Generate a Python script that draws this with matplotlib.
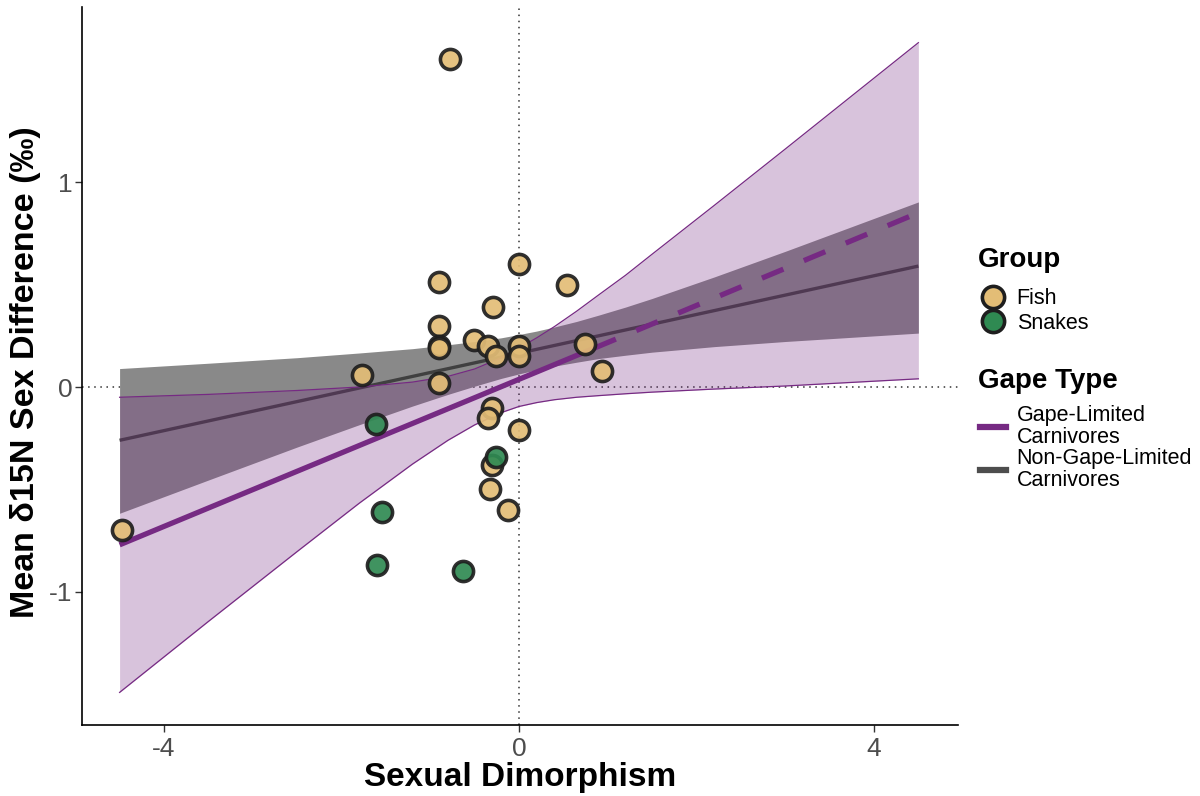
import matplotlib
matplotlib.use("Agg")
import matplotlib.pyplot as plt
from matplotlib.lines import Line2D

plt.rcParams['font.family'] = ['Liberation Sans', 'DejaVu Sans']

# points
fish_x = [-0.78, -0.90, -0.90, -0.90, -0.90, -0.90, -1.77, -0.51, -0.35, -0.29, -0.26,
          0.00, 0.00, 0.00, 0.54, 0.74, 0.94, -0.30, -0.35, 0.00, -0.30, -0.33, -0.12, -4.47]
fish_y = [1.60, 0.51, 0.30, 0.20, 0.19, 0.02, 0.06, 0.23, 0.20, 0.39, 0.15,
          0.60, 0.20, 0.15, 0.50, 0.21, 0.08, -0.10, -0.15, -0.21, -0.38, -0.50, -0.60, -0.70]
snake_x = [-1.61, -1.54, -1.60, -0.63, -0.26]
snake_y = [-0.18, -0.61, -0.87, -0.90, -0.34]

# fitted lines (end points)
gape_x_solid = [-4.5, 0.85]
gape_y_solid = [-0.77, 0.19]
gape_x_dash = [0.85, 4.5]
gape_y_dash = [0.19, 0.85]
non_x = [-4.5, 4.5]
non_y = [-0.26, 0.59]

# confidence bands, read at these x positions
band_x = [-4.5, -3.5, -2.5, -1.8, -1.2, -0.8, -0.5, -0.2, 0.0, 0.2, 0.4, 0.65, 0.9, 1.2, 1.5, 2.2, 3.0, 4.5]
gape_hi = [-0.05, -0.036, -0.017, 0.0, 0.024, 0.052, 0.088, 0.143, 0.19, 0.24, 0.295, 0.37, 0.45, 0.545, 0.648, 0.886, 1.161, 1.68]
gape_lo = [-1.49, -1.144, -0.803, -0.567, -0.376, -0.26, -0.185, -0.125, -0.095, -0.076, -0.062, -0.05, -0.042, -0.033, -0.025, -0.01, 0.005, 0.04]
non_hi = [0.09, 0.116, 0.143, 0.166, 0.187, 0.206, 0.222, 0.240, 0.256, 0.273, 0.293, 0.32, 0.351, 0.39, 0.432, 0.537, 0.662, 0.903]
non_lo = [-0.616, -0.454, -0.293, -0.184, -0.093, -0.036, 0.004, 0.042, 0.064, 0.084, 0.102, 0.121, 0.139, 0.155, 0.170, 0.197, 0.222, 0.263]

purple = '#762a83'
fish_col = '#e3bd76'
snake_col = '#2f8a52'

fig = plt.figure(figsize=(12, 7.96), dpi=100)
ax = fig.add_axes([0.0683, 0.0892, 0.7300, 0.9020])

ax.axvline(0, color='#333333', lw=1.1, ls=(0, (1, 3)), zorder=1)
ax.axhline(0, color='#333333', lw=1.1, ls=(0, (1, 3)), zorder=1)

ax.fill_between(band_x, non_lo, non_hi, color='#898989', lw=0, zorder=2)
ax.plot(non_x, non_y, color='#404040', lw=2.4, solid_capstyle='butt', zorder=3)
ax.fill_between(band_x, gape_lo, gape_hi, color=purple, alpha=0.28, lw=0, zorder=4)
ax.plot(band_x, gape_hi, color=purple, lw=0.9, zorder=4)
ax.plot(band_x, gape_lo, color=purple, lw=0.9, zorder=4)
ax.plot(gape_x_solid, gape_y_solid, color=purple, lw=3.8, solid_capstyle='butt', zorder=5)
ax.plot(gape_x_dash, gape_y_dash, color=purple, lw=3.8, dashes=(4.4, 4.2), zorder=5)

ax.scatter(fish_x, fish_y, s=210, c=fish_col, edgecolors='#1e1e1e', linewidths=2.6, alpha=0.92, zorder=6)
ax.scatter(snake_x, snake_y, s=210, c=snake_col, edgecolors='#1e1e1e', linewidths=2.6, alpha=0.92, zorder=6)

ax.set_xlim(-4.924, 4.946)
ax.set_ylim(-1.649, 1.854)
ax.set_xticks([-4, 0, 4])
ax.set_xticklabels(['-4', '0', '4'])
ax.set_yticks([-1, 0, 1])
ax.set_yticklabels(['-1', '0', '1'])
ax.tick_params(labelsize=19, labelcolor='#4d4d4d', color='#333333', length=5, width=1)
ax.tick_params(axis='y', pad=2)
for side in ['top', 'right']:
    ax.spines[side].set_visible(False)
for side in ['left', 'bottom']:
    ax.spines[side].set_linewidth(1.2)

ax.set_xlabel('Sexual Dimorphism', fontsize=24, fontweight='bold')
ax.xaxis.set_label_coords(0.5, -0.052)
ax.set_ylabel('Mean δ15N Sex Difference (‰)', fontsize=24.5, fontweight='bold')
ax.yaxis.set_label_coords(-0.047, 0.491)

# legend titles placed separately to get the wider title gap
fig.text(978 / 1200, 1 - 260 / 796, 'Group', fontsize=20, fontweight='bold', va='center', ha='left')
fig.text(978 / 1200, 1 - 381 / 796, 'Gape Type', fontsize=20, fontweight='bold', va='center', ha='left')

grp_handles = [
    Line2D([], [], ls='', marker='o', ms=16, mfc=fish_col, mec='#1e1e1e', mew=2.6),
    Line2D([], [], ls='', marker='o', ms=16, mfc=snake_col, mec='#1e1e1e', mew=2.6),
]
leg1 = fig.legend(grp_handles, ['Fish', 'Snakes'], loc='center left',
                  bbox_to_anchor=(0.8095, 1 - 311 / 796), frameon=False, fontsize=15.5,
                  handletextpad=0.5, labelspacing=0.14, borderaxespad=0,
                  handlelength=1.2)

gape_handles = [
    Line2D([], [], color=purple, lw=4.5),
    Line2D([], [], color='#4d4d4d', lw=4.5),
]
leg2 = fig.legend(gape_handles, ['Gape-Limited\nCarnivores', 'Non-Gape-Limited\nCarnivores'],
                  loc='center left', bbox_to_anchor=(0.8095, 1 - 448 / 796),
                  frameon=False, fontsize=15.5, handlelength=1.2,
                  handletextpad=0.5, labelspacing=0.0, borderaxespad=0)
for t in leg2.get_texts():
    t.set_linespacing(1.05)

fig.savefig('out.png', dpi=100)
